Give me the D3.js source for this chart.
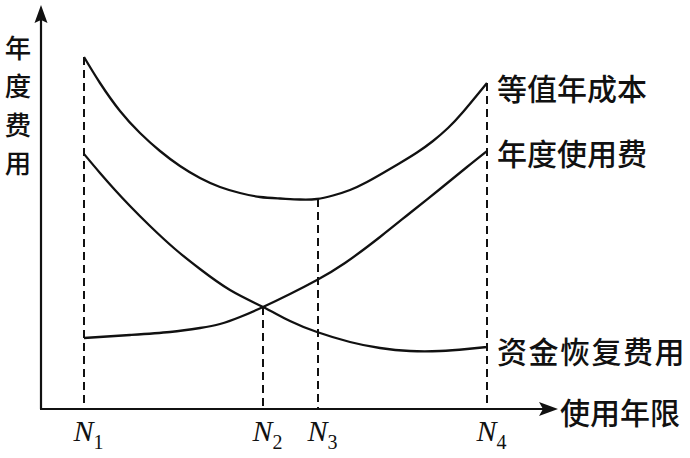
<html>
    <head>
        <title>使用年限</title>
        <style>
            body { margin: 0; background: #fff; }
        </style>
    </head>
    <body>

        <div id="chart-area"></div>

        <script src="https://d3js.org/d3.v7.min.js"></script>

        <script>

            const WIDTH = 690
            const HEIGHT = 458

            // values (x: years of use, y: annual cost, arbitrary units)
            const nNames = ["1", "2", "3", "4"]
            const nYears = [43, 222, 277, 446]
            const guideTops = [352, 102, 210, 326]

            const totalYears = [43, 59, 79, 99, 119, 139, 159, 179, 199, 219, 239, 259, 276, 292, 309, 326, 342, 359, 376, 392, 407, 422, 446]
            const totalCost  = [352, 326, 298, 276, 258, 243, 231, 222, 216, 212, 210.5, 209.5, 210, 213.5, 219, 227, 236, 246, 256.5, 268, 281, 297, 326]

            const useYears = [43, 89, 129, 159, 179, 199, 222, 249, 276, 304, 339, 369, 399, 426, 446]
            const useCost  = [71, 74, 77, 81, 85, 92, 102, 115, 129, 146, 172, 196, 220, 242, 258]

            const capYears = [43, 59, 74, 89, 109, 134, 159, 189, 222, 249, 276, 309, 339, 369, 399, 426, 446]
            const capCost  = [255, 236, 219, 203, 183, 160, 140, 119, 102, 88, 77, 67, 61, 58, 58, 60, 62]

            const seriesNames = ["等值年成本", "年度使用费", "资金恢复费用"]
            const yTitle = ["年", "度", "费", "用"]
            const xTitle = "使用年限"

            const X_MAX = 517
            const Y_MAX = 404

            const CJK = "'Noto Sans CJK SC', sans-serif"


            // 1. svg
            const svg = d3.select("#chart-area")
                    .append("svg")
                        .attr("width", WIDTH)
                        .attr("height", HEIGHT);

            svg.append("rect")
                .attr("width", WIDTH)
                .attr("height", HEIGHT)
                .attr("fill", "#fff");


            // 2. scales
            const x = d3.scaleLinear()
                        .domain([0, X_MAX])
                        .range([41, 558]);

            const y = d3.scaleLinear()
                        .domain([0, Y_MAX])
                        .range([409, 5]);


            // 3. dashed guides
            svg.selectAll(".guide")
                .data(nYears).enter()
                .append("line")
                    .attr("class", "guide")
                    .attr("x1", d => x(d))
                    .attr("x2", d => x(d))
                    .attr("y1", (d, i) => y(guideTops[i]))
                    .attr("y2", y(0))
                    .attr("stroke", "#111")
                    .attr("stroke-width", 2)
                    .attr("stroke-dasharray", "8,5");


            // 4. axes (lines + arrow heads)
            const axisG = svg.append("g")

            axisG.append("line")
                .attr("x1", x(0)).attr("y1", y(0))
                .attr("x2", x(0)).attr("y2", y(Y_MAX) + 12)
                .attr("stroke", "#111")
                .attr("stroke-width", 2.2);

            axisG.append("line")
                .attr("x1", x(0) - 1).attr("y1", y(0))
                .attr("x2", x(X_MAX) - 12).attr("y2", y(0))
                .attr("stroke", "#111")
                .attr("stroke-width", 2.2);

            const tipY = [x(0), y(Y_MAX)]
            axisG.append("path")
                .attr("d", `M${tipY[0]},${tipY[1]} L${tipY[0] + 6.5},${tipY[1] + 18} L${tipY[0]},${tipY[1] + 15} L${tipY[0] - 6.5},${tipY[1] + 18} Z`)
                .attr("fill", "#111");

            const tipX = [x(X_MAX), y(0)]
            axisG.append("path")
                .attr("d", `M${tipX[0]},${tipX[1]} L${tipX[0] - 19},${tipX[1] - 7} L${tipX[0] - 15},${tipX[1]} L${tipX[0] - 19},${tipX[1] + 7} Z`)
                .attr("fill", "#111");

            // tick labels N1..N4 through the axis generator
            const xAxis = d3.axisBottom(x)
                            .tickValues(nYears)
                            .tickSize(0)
                            .tickPadding(0)
                            .tickFormat("")

            const xAxisG = svg.append("g")
                .attr("transform", `translate(0, ${y(0)})`)
                .call(xAxis)
                .call(g => g.select(".domain").remove())

            xAxisG.selectAll(".tick text")
                .attr("y", 32)
                .attr("dy", null)
                .attr("text-anchor", "start")
                .attr("fill", "#111")
                .attr("font-family", "'Liberation Serif', serif")
                .each(function(d, i) {
                    const t = d3.select(this)
                    t.attr("x", -11)
                    t.append("tspan")
                        .attr("font-style", "italic")
                        .attr("font-size", "30px")
                        .text("N")
                    t.append("tspan")
                        .attr("font-size", "20px")
                        .attr("dy", 8)
                        .text(nNames[i])
                })


            // 5. curves
            const line = d3.line()
                            .x(d => x(d[0]))
                            .y(d => y(d[1]))
                            .curve(d3.curveNatural)

            const series = [
                d3.zip(totalYears, totalCost),
                d3.zip(useYears, useCost),
                d3.zip(capYears, capCost)
            ]

            svg.selectAll(".curve")
                .data(series).enter()
                .append("path")
                    .attr("class", "curve")
                    .attr("d", d => line(d))
                    .attr("fill", "none")
                    .attr("stroke", "#111")
                    .attr("stroke-width", 2.3);


            // 6. labels
            svg.selectAll(".series-label")
                .data(series).enter()
                .append("text")
                    .attr("class", "series-label")
                    .attr("x", d => x(d[d.length - 1][0]) + 10)
                    .attr("y", (d, i) => y(d[d.length - 1][1]) + [4, 1, 3][i])
                    .attr("dominant-baseline", "central")
                    .attr("font-family", CJK)
                    .attr("font-weight", 500)
                    .attr("font-size", "30px")
                    .attr("fill", "#111")
                    .attr("letter-spacing", (d, i) => i === 2 ? "1.5px" : "0px")
                    .text((d, i) => seriesNames[i]);

            svg.append("text")
                .attr("x", x(X_MAX) + 2)
                .attr("y", y(0) + 2)
                .attr("dominant-baseline", "central")
                .attr("font-family", CJK)
                .attr("font-weight", 500)
                .attr("font-size", "30px")
                .attr("fill", "#111")
                .text(xTitle);

            // vertical axis title, one character per row
            svg.selectAll(".y-title")
                .data(yTitle).enter()
                .append("text")
                    .attr("class", "y-title")
                    .attr("x", 18)
                    .attr("y", (d, i) => 46 + i * 38.5)
                    .attr("text-anchor", "middle")
                    .attr("dominant-baseline", "central")
                    .attr("font-family", CJK)
                    .attr("font-weight", 500)
                    .attr("font-size", "26.4px")
                    .attr("fill", "#111")
                    .text(d => d);

        </script>
    </body>
</html>
